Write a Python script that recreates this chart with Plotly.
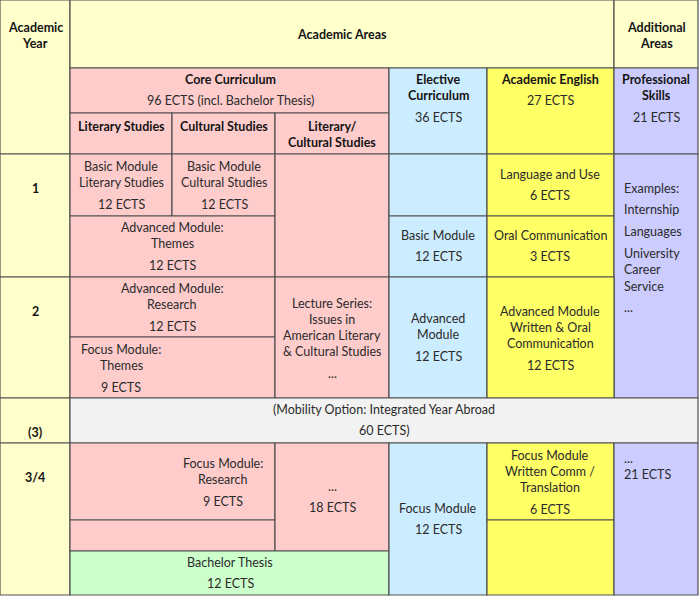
import plotly.graph_objects as go

# grid edges of the study plan (pixel-like units, y grows downward)
col_edges = [0, 70, 172, 275, 389, 487, 614, 698]
row_edges = [0, 68, 113, 154, 216, 277, 337, 398, 443, 520, 551, 595]

area_colors = {
    "year": "#FFFFCC",
    "core": "#FFCCCC",
    "elective": "#CCECFF",
    "english": "#FFFF66",
    "skills": "#CCCCFF",
    "mobility": "#F2F2F2",
    "thesis": "#CCFFCC",
}

# cells: area, first col, last col, first row, last row (edge indices)
cells = [
    ("year", 0, 1, 0, 3), ("year", 1, 6, 0, 1), ("year", 6, 7, 0, 1),
    ("core", 1, 4, 1, 2), ("core", 1, 2, 2, 3), ("core", 2, 3, 2, 3), ("core", 3, 4, 2, 3),
    ("elective", 4, 5, 1, 3), ("english", 5, 6, 1, 3), ("skills", 6, 7, 1, 3),
    # year 1
    ("year", 0, 1, 3, 5),
    ("core", 1, 2, 3, 4), ("core", 2, 3, 3, 4), ("core", 1, 3, 4, 5), ("core", 3, 4, 3, 5),
    ("elective", 4, 5, 3, 4), ("elective", 4, 5, 4, 5),
    ("english", 5, 6, 3, 4), ("english", 5, 6, 4, 5),
    ("skills", 6, 7, 3, 7),
    # year 2
    ("year", 0, 1, 5, 7),
    ("core", 1, 3, 5, 6), ("core", 1, 3, 6, 7), ("core", 3, 4, 5, 7),
    ("elective", 4, 5, 5, 7), ("english", 5, 6, 5, 7),
    # mobility
    ("year", 0, 1, 7, 8), ("mobility", 1, 7, 7, 8),
    # year 3/4
    ("year", 0, 1, 8, 11),
    ("core", 1, 3, 8, 9), ("core", 1, 3, 9, 10), ("core", 3, 4, 8, 10),
    ("thesis", 1, 4, 10, 11),
    ("elective", 4, 5, 8, 11),
    ("english", 5, 6, 8, 9), ("english", 5, 6, 9, 11),
    ("skills", 6, 7, 8, 11),
]

# text blocks: x, y of first line, anchor, bold paragraphs, plain paragraphs
texts = [
    (35, 27, "center", ["Academic\nYear"], []),
    (342, 34, "center", ["Academic Areas"], []),
    (656, 27, "center", ["Additional\nAreas"], []),
    (230, 79, "center", ["Core Curriculum"], ["96 ECTS (incl. Bachelor Thesis)"]),
    (121, 126, "center", ["Literary Studies"], []),
    (224, 126, "center", ["Cultural Studies"], []),
    (332, 126, "center", ["Literary/\nCultural Studies"], []),
    (438, 79, "center", ["Elective\nCurriculum"], ["36 ECTS"]),
    (550, 79, "center", ["Academic English"], ["27 ECTS"]),
    (656, 79, "center", ["Professional\nSkills"], ["21 ECTS"]),
    (35, 188, "center", ["1"], []),
    (35, 311, "center", ["2"], []),
    (35, 432, "center", ["(3)"], []),
    (35, 477, "center", ["3/4"], []),
    (121, 166, "center", [], ["Basic Module\nLiterary Studies", "12 ECTS"]),
    (224, 166, "center", [], ["Basic Module\nCultural Studies", "12 ECTS"]),
    (172, 227, "center", [], ["Advanced Module:\nThemes", "12 ECTS"]),
    (438, 235, "center", [], ["Basic Module", "12 ECTS"]),
    (550, 174, "center", [], ["Language and Use", "6 ECTS"]),
    (550, 235, "center", [], ["Oral Communication", "3 ECTS"]),
    (622, 188, "left", [], ["Examples:", "Internship", "Languages",
                            "University\nCareer\nService", "..."]),
    (172, 288, "center", [], ["Advanced Module:\nResearch", "12 ECTS"]),
    (121, 349, "center", [], ["Focus Module:\nThemes", "9 ECTS"]),
    (332, 303, "center", [], ["Lecture Series:\nIssues in\nAmerican Literary\n&amp; Cultural Studies",
                              "..."]),
    (438, 318, "center", [], ["Advanced\nModule", "12 ECTS"]),
    (550, 311, "center", [], ["Advanced Module\nWritten &amp; Oral\nCommunication", "12 ECTS"]),
    (384, 409, "center", [], ["(Mobility Option: Integrated Year Abroad", "60 ECTS)"]),
    (223, 463, "center", [], ["Focus Module:\nResearch", "9 ECTS"]),
    (332, 486, "center", [], ["...", "18 ECTS"]),
    (438, 508, "center", [], ["Focus Module", "12 ECTS"]),
    (230, 562, "center", [], ["Bachelor Thesis", "12 ECTS"]),
    (550, 455, "center", [], ["Focus Module\nWritten Comm /\nTranslation", "6 ECTS"]),
    (622, 458, "left", [], ["...\n21 ECTS"]),
]

LINE = 16.3
PARA = 21.8
FONT = "Lato"

fig = go.Figure()

for area, c0, c1, r0, r1 in cells:
    fig.add_shape(
        type="rect", xref="x", yref="y",
        x0=col_edges[c0], x1=col_edges[c1], y0=row_edges[r0], y1=row_edges[r1],
        fillcolor=area_colors[area], line=dict(color="#505050", width=1.2),
        layer="below",
    )

for x, y, align, bold, plain in texts:
    paras = [(p, True) for p in bold] + [(p, False) for p in plain]
    cur = y
    for i, (para, is_bold) in enumerate(paras):
        if i > 0:
            cur += PARA
        for j, line in enumerate(para.split("\n")):
            if j > 0:
                cur += LINE
            fig.add_annotation(
                x=x, y=cur, xref="x", yref="y",
                text=f"<b>{line}</b>" if is_bold else line,
                showarrow=False, xanchor=align, yanchor="middle",
                font=dict(family=FONT, size=12.5, color="#141414" if is_bold else "#2b2b2b"),
            )

fig.update_xaxes(range=[0, 699], visible=False, fixedrange=True)
fig.update_yaxes(range=[600, 0], visible=False, fixedrange=True)
fig.update_layout(
    width=699, height=600,
    margin=dict(l=0, r=0, t=0, b=0),
    paper_bgcolor="white", plot_bgcolor="white",
    showlegend=False,
)

fig.write_html("out.html", config={"displayModeBar": False},
               post_script="document.body.style.margin='0';")
